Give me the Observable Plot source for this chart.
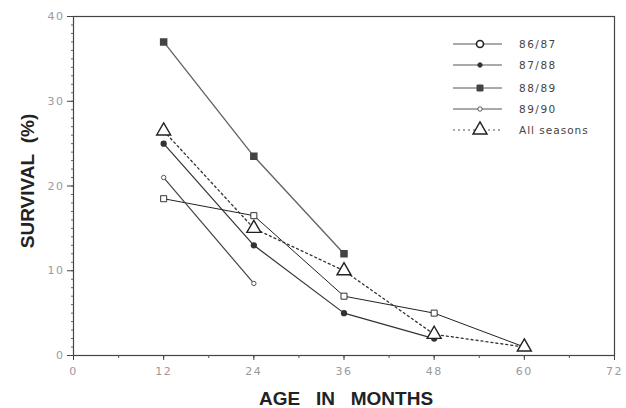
<!DOCTYPE html>
<html>
<head>
<meta charset="utf-8">
<script src="https://cdn.jsdelivr.net/npm/d3@7"></script>
<script src="https://cdn.jsdelivr.net/npm/@observablehq/plot@0.6"></script>
<style>
  html, body { margin: 0; padding: 0; background: #fff; }
  #wrap { position: relative; width: 626px; height: 408px; }
  #legend { position: absolute; left: 0; top: 0; }
  g[aria-label="x-axis tick label"] text, g[aria-label="y-axis tick label"] text { letter-spacing: 1.5px; }
  g[aria-label="y-title"] text { letter-spacing: 0.6px; }
</style>
</head>
<body>
<div id="wrap"></div>
<script>
// ---- data ----
const months   = [12, 24, 36, 48, 60];
const s8687    = [18.5, 16.5, 7, 5, 1];
const s8788    = [25, 13, 5, 2];
const s8889    = [37, 23.5, 12];
const s8990    = [21, 8.5];
const sAll     = [26.5, 15, 10, 2.5, 1];
const seasons  = ["86/87", "87/88", "88/89", "89/90", "All seasons"];
const xTicks   = [0, 12, 24, 36, 48, 60, 72];
const yTicks   = [0, 10, 20, 30, 40];
const xTitle   = "AGE\u00a0\u00a0\u00a0IN\u00a0\u00a0\u00a0MONTHS";
const yTitle   = "SURVIVAL\u00a0\u00a0(%)";

const toRows = (vals, season) => vals.map((v, i) => ({month: months[i], value: v, season}));
const r8687 = toRows(s8687, seasons[0]);
const r8788 = toRows(s8788, seasons[1]);
const r8889 = toRows(s8889, seasons[2]);
const r8990 = toRows(s8990, seasons[3]);
const rAll  = toRows(sAll,  seasons[4]);

const tickFont = "DejaVu Sans";
const chart = Plot.plot({
  width: 626,
  height: 408,
  marginLeft: 73,
  marginRight: 12,
  marginTop: 16,
  marginBottom: 53,
  style: {background: "#fff", fontFamily: tickFont},
  x: {domain: [0, 72]},
  y: {domain: [0, 40]},
  marks: [
    Plot.frame({stroke: "#444", strokeWidth: 1.2}),
    // minor ticks
    Plot.axisX(d3.range(0, 73, 6), {tickSize: 3, tickFormat: () => "", label: null, stroke: "#555"}),
    Plot.axisY(d3.range(0, 41, 1), {tickSize: 2, tickFormat: () => "", label: null, stroke: "#666"}),
    // major ticks + labels
    Plot.axisX(xTicks, {tickSize: 5, tickPadding: 7, fontSize: 11, fill: "#9a9a9a", stroke: "#444", label: null}),
    Plot.axisY(yTicks, {tickSize: 6, tickPadding: 3, fontSize: 11, fill: "#9a9a9a", stroke: "#444", label: null}),
    // axis titles
    Plot.text([yTitle], {frameAnchor: "left", rotate: -90, textAnchor: "middle", lineAnchor: "middle",
      dx: -46, dy: -5, fontSize: 19, fontWeight: "bold", ariaLabel: "y-title",
      fontFamily: "Liberation Sans", fill: "#222", text: d => d}),
    Plot.text([xTitle], {frameAnchor: "bottom", textAnchor: "middle", lineAnchor: "middle",
      dx: 2, dy: 43, fontSize: 19, fontWeight: "bold",
      fontFamily: "Liberation Sans", fill: "#222", text: d => d}),
    // lines
    Plot.line(r8889, {x: "month", y: "value", stroke: "#666", strokeWidth: 1.4}),
    Plot.line(r8687, {x: "month", y: "value", stroke: "#222", strokeWidth: 1}),
    Plot.line(r8788, {x: "month", y: "value", stroke: "#333", strokeWidth: 1.2}),
    Plot.line(r8990, {x: "month", y: "value", stroke: "#444", strokeWidth: 1.2}),
    Plot.line(rAll,  {x: "month", y: "value", stroke: "#333", strokeWidth: 1.3, strokeDasharray: "2,3"}),
    // markers
    Plot.dot(r8889, {x: "month", y: "value", symbol: "square", r: 3.4, fill: "#444", stroke: "#444"}),
    Plot.dot(r8687, {x: "month", y: "value", symbol: "square", r: 3.4, fill: "#fff", stroke: "#333", strokeWidth: 1}),
    Plot.dot(r8788, {x: "month", y: "value", symbol: "circle", r: 2.4, fill: "#333", stroke: "#333"}),
    Plot.dot(r8990, {x: "month", y: "value", symbol: "circle", r: 2.2, fill: "#fff", stroke: "#555", strokeWidth: 1}),
    Plot.dot(rAll,  {x: "month", y: "value", symbol: "triangle", r: 5.2, fill: "#fff", stroke: "#222", strokeWidth: 1.4})
  ]
});
document.getElementById("wrap").appendChild(chart);

// ---- legend overlay ----
const legendStyles = [
  {dash: null,  sym: d3.symbolCircle,   size: Math.PI * 3.5 * 3.5, fill: "#fff", stroke: "#222", sw: 1.6},
  {dash: null,  sym: d3.symbolCircle,   size: Math.PI * 2.2 * 2.2, fill: "#333", stroke: "#333", sw: 1},
  {dash: null,  sym: d3.symbolSquare,   size: 36,                  fill: "#444", stroke: "#444", sw: 1},
  {dash: null,  sym: d3.symbolCircle,   size: Math.PI * 2.2 * 2.2, fill: "#fff", stroke: "#555", sw: 1},
  {dash: "2,3", sym: d3.symbolTriangle, size: Math.PI * 5.2 * 5.2, fill: "#fff", stroke: "#222", sw: 1.4}
];
const rowY = [44, 65, 88, 109, 130];
const lg = d3.select("#wrap").append("svg")
  .attr("id", "legend").attr("width", 626).attr("height", 408)
  .style("pointer-events", "none");
seasons.forEach((s, i) => {
  const st = legendStyles[i];
  const g = lg.append("g").attr("transform", `translate(0,${rowY[i]})`);
  g.append("line").attr("x1", 453).attr("x2", 502).attr("y1", 0).attr("y2", 0)
    .attr("stroke", "#555").attr("stroke-width", 1)
    .attr("stroke-dasharray", st.dash);
  g.append("path").attr("d", d3.symbol(st.sym, st.size)()).attr("transform", "translate(480,0)")
    .attr("fill", st.fill).attr("stroke", st.stroke).attr("stroke-width", st.sw);
  g.append("text").attr("x", 519).attr("y", 0).attr("dy", "0.35em")
    .attr("font-family", "DejaVu Sans").attr("font-size", 10.5).attr("fill", "#444")
    .attr("letter-spacing", s === "All seasons" ? "1px" : "1.5px")
    .text(s);
});
</script>
</body>
</html>
